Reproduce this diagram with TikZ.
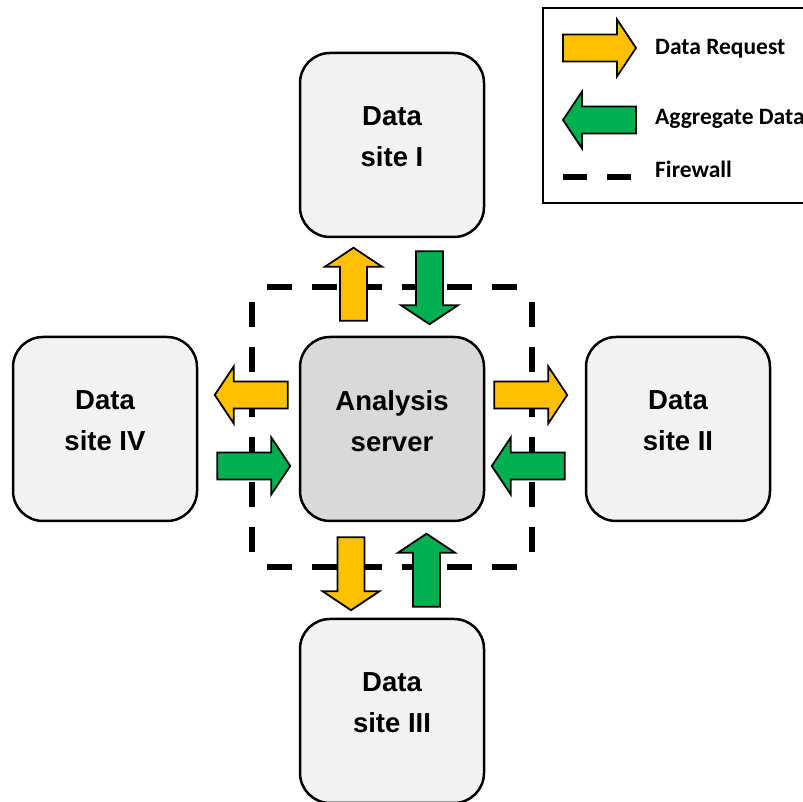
\documentclass[tikz,border=0pt]{standalone}
\usepackage{fontspec}
\setmainfont{Liberation Sans}
\newfontfamily\legendfont{Carlito}
\usetikzlibrary{calc}
\definecolor{reqyellow}{HTML}{FFC000}
\definecolor{agggreen}{HTML}{00B050}
\definecolor{sitefill}{HTML}{F2F2F2}
\definecolor{serverfill}{HTML}{D9D9D9}
\tikzset{
  sitebox/.style={draw=black, line width=2.5pt, rounded corners=30pt, fill=sitefill,
    minimum width=184pt, minimum height=184pt, inner sep=0pt, align=center,
    font=\fontsize{27.5}{41}\selectfont\bfseries, text depth=16pt},
  serverbox/.style={sitebox, fill=serverfill},
  arrowbody/.style={draw=black, line width=1.8pt, line join=miter},
  firewall/.style={line width=6pt, dash pattern=on 25pt off 20pt},
  legendbox/.style={draw=black, line width=2pt},
  legendtext/.style={anchor=base west, inner sep=0pt, font=\legendfont\fontsize{23.5}{28}\selectfont\bfseries}
}
\newcommand{\myblockarrow}[3]{%
  \draw[arrowbody, fill=#1, shift={(#2)}, rotate=#3]
    (0,-13.5) -- (54,-13.5) -- (54,-28.5) -- (73,0) -- (54,28.5) -- (54,13.5) -- (0,13.5) -- cycle;}
\begin{document}
\begin{tikzpicture}[x=1pt, y=1pt]
\clip (0,0) rectangle (803,802);
% nodes
\node[serverbox] (server) at (392,373) {Analysis\\server};
\node[sitebox] (site1) at (392,657) {Data\\site I};
\node[sitebox] (site2) at (678,373) {Data\\site II};
\node[sitebox] (site3) at (392,91) {Data\\site III};
\node[sitebox] (site4) at (105,373) {Data\\site IV};
% firewall
\draw[firewall] (252,250) -- (252,500);
\draw[firewall] (267,515) -- (517,515);
\draw[firewall] (532,500) -- (532,250);
\draw[firewall] (517,235) -- (267,235);
% arrows site I
\myblockarrow{reqyellow}{$(server.north)+(-38.5,15)$}{90}
\myblockarrow{agggreen}{$(site1.south)+(37.5,-13)$}{-90}
% arrows site IV
\myblockarrow{reqyellow}{$(server.west)+(-11,34)$}{180}
\myblockarrow{agggreen}{$(site4.east)+(19,-37)$}{0}
% arrows site II
\myblockarrow{reqyellow}{$(server.east)+(9,34)$}{0}
\myblockarrow{agggreen}{$(site2.west)+(-20,-37)$}{180}
% arrows site III
\myblockarrow{reqyellow}{$(server.south)+(-41,-15)$}{-90}
\myblockarrow{agggreen}{$(site3.north)+(34.5,11)$}{90}
% legend
\node[legendbox, anchor=north west, minimum width=280pt, minimum height=195pt, inner sep=0pt] (legend) at (542,795) {};
\myblockarrow{reqyellow}{563,754}{0}
\myblockarrow{agggreen}{636,682}{180}
\coordinate (fwa) at (563,625);
\coordinate (fwb) at (631,625);
\draw[line width=6pt, dash pattern=on 24pt off 20pt] (fwa) -- (fwb);
\node[legendtext] (lreq) at (655,747) {Data Request};
\node[legendtext] (lagg) at (655,677) {Aggregate Data};
\node[legendtext] (lfw) at (655,624) {Firewall};
\end{tikzpicture}
\end{document}
